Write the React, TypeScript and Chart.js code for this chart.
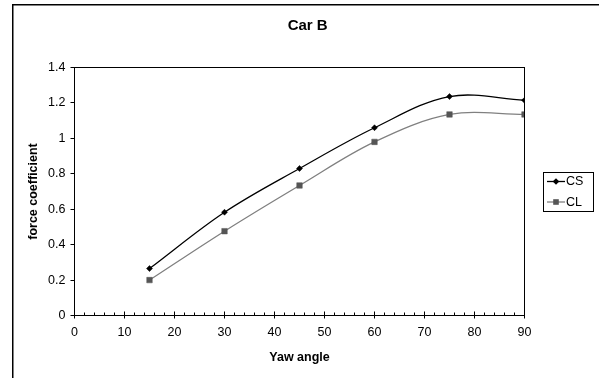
import React, { useEffect, useRef } from "react";
import { Chart, registerables } from "chart.js";

Chart.register(...registerables);

const chartTitle = "Car B";
const xAxisTitle = "Yaw angle";
const yAxisTitle = "force coefficient";
const yawAngles = [15, 30, 45, 60, 75, 90];
const csValues = [0.265, 0.583, 0.83, 1.06, 1.236, 1.215];
const clValues = [0.2, 0.476, 0.734, 0.98, 1.135, 1.135];
const seriesNames = ["CS", "CL"];
const xMajorTicks = [0, 10, 20, 30, 40, 50, 60, 70, 80, 90];
const xMinorTicks = [
  0, 2, 4, 6, 8, 10, 12, 14, 16, 18, 20, 22, 24, 26, 28, 30, 32, 34, 36, 38, 40,
  42, 44, 46, 48, 50, 52, 54, 56, 58, 60, 62, 64, 66, 68, 70, 72, 74, 76, 78, 80,
  82, 84, 86, 88, 90,
];
const yTicks = [0, 0.2, 0.4, 0.6, 0.8, 1, 1.2, 1.4];

const FONT = "Arial, 'Liberation Sans', sans-serif";
const TICK_SIZE = 12.5;

function align(v: number) {
  return Math.round(v - 0.5) + 0.5;
}

const decorPlugin = {
  id: "decor",
  beforeDraw(chart: any) {
    const ctx = chart.ctx;
    ctx.save();
    ctx.fillStyle = "#fff";
    ctx.fillRect(0, 0, chart.width, chart.height);
    ctx.restore();
  },
  afterDraw(chart: any) {
    const ctx = chart.ctx;
    const { left, top, right, bottom } = chart.chartArea;
    ctx.save();
    // outer frame
    ctx.strokeStyle = "#000";
    ctx.lineWidth = 1.5;
    ctx.beginPath();
    ctx.moveTo(12.75, chart.height + 5);
    ctx.lineTo(12.75, 4.75);
    ctx.lineTo(chart.width + 5, 4.75);
    ctx.stroke();

    // plot border
    ctx.lineWidth = 1;
    ctx.strokeRect(align(left), align(top), align(right) - align(left), align(bottom) - align(top));

    // x minor + inner major ticks
    const xs = chart.scales.x;
    const yb = align(bottom);
    ctx.beginPath();
    xMinorTicks.forEach((v) => {
      const px = align(xs.getPixelForValue(v));
      const major = xMajorTicks.includes(v);
      ctx.moveTo(px, yb - (major ? 4 : 3));
      ctx.lineTo(px, yb);
    });
    ctx.stroke();

    // legend
    const bx = 543.5, by = 172.5, bw = 50, bh = 39;
    ctx.strokeRect(bx, by, bw, bh);
    const rows = [181.5, 202];
    chart.data.datasets.forEach((ds: any, i: number) => {
      const cy = rows[i];
      ctx.strokeStyle = ds.borderColor;
      ctx.lineWidth = ds.borderWidth;
      ctx.beginPath();
      ctx.moveTo(547, cy);
      ctx.lineTo(565, cy);
      ctx.stroke();
      ctx.fillStyle = ds.pointBackgroundColor;
      const cx = 556;
      ctx.beginPath();
      if (ds.pointStyle === "rectRot") {
        const r = 3.3;
        ctx.moveTo(cx, cy - r);
        ctx.lineTo(cx + r, cy);
        ctx.lineTo(cx, cy + r);
        ctx.lineTo(cx - r, cy);
        ctx.closePath();
      } else {
        ctx.rect(cx - 2.8, cy - 2.8, 5.6, 5.6);
      }
      ctx.fill();
      ctx.fillStyle = "#000";
      ctx.font = `${TICK_SIZE}px ${FONT}`;
      ctx.textBaseline = "middle";
      ctx.textAlign = "left";
      ctx.fillText(ds.label, 566, cy + 0.5);
    });
    ctx.restore();
  },
};

export default function App() {
  const ref = useRef<HTMLCanvasElement>(null);
  useEffect(() => {
    document.body.style.margin = "0";
    Chart.defaults.font.family = FONT;
    const chart = new Chart(ref.current as HTMLCanvasElement, {
      type: "line",
      data: {
        datasets: [
          {
            label: seriesNames[0],
            data: yawAngles.map((x, i) => ({ x, y: csValues[i] })),
            borderColor: "#000",
            borderWidth: 1.3,
            pointStyle: "rectRot",
            pointRadius: 3,
            pointBorderWidth: 0.5,
            pointBackgroundColor: "#000",
            pointBorderColor: "#000",
            tension: 0.35,
            fill: false,
          },
          {
            label: seriesNames[1],
            data: yawAngles.map((x, i) => ({ x, y: clValues[i] })),
            borderColor: "#808080",
            borderWidth: 1.3,
            pointStyle: "rect",
            pointRadius: 3.9,
            pointBorderWidth: 0.5,
            pointBackgroundColor: "#555",
            pointBorderColor: "#555",
            tension: 0.35,
            fill: false,
          },
        ],
      },
      options: {
        animation: false,
        responsive: false,
        devicePixelRatio: 1,
        layout: { padding: { left: 16.4, right: 0, top: 0, bottom: 0 } },
        plugins: {
          legend: { display: false },
          tooltip: { enabled: false },
          title: {
            display: true,
            text: chartTitle,
            color: "#000",
            font: { size: 15, weight: "bold", family: FONT },
            padding: { top: 16.5, bottom: 33 },
          },
        },
        scales: {
          x: {
            type: "linear",
            position: "bottom",
            min: 0,
            max: 90,
            afterBuildTicks: (s: any) => {
              s.ticks = xMajorTicks.map((value) => ({ value }));
            },
            afterFit: (s: any) => {
              s.height = 62.5;
            },
            ticks: {
              color: "#000",
              font: { size: TICK_SIZE, family: FONT },
              padding: 7,
              maxRotation: 0,
              autoSkip: false,
            },
            grid: {
              drawOnChartArea: false,
              drawTicks: true,
              tickLength: 3,
              color: "#000",
              tickColor: "#000",
            },
            border: { display: true, color: "#000", width: 1 },
            title: {
              display: true,
              text: xAxisTitle,
              color: "#000",
              font: { size: 12.5, weight: "bold", family: FONT },
              padding: { top: 0, bottom: 13 },
            },
          },
          y: {
            type: "linear",
            position: "left",
            min: 0,
            max: 1.4,
            afterBuildTicks: (s: any) => {
              s.ticks = yTicks.map((value) => ({ value }));
            },
            afterFit: (s: any) => {
              s.width = 58.1;
            },
            ticks: {
              color: "#000",
              font: { size: TICK_SIZE, family: FONT },
              padding: 5,
              callback: (v: any) => String(+Number(v).toFixed(1)),
            },
            grid: {
              drawOnChartArea: false,
              drawTicks: true,
              tickLength: 4,
              color: "#000",
              tickColor: "#000",
            },
            border: { display: true, color: "#000", width: 1 },
            title: {
              display: true,
              text: yAxisTitle,
              color: "#000",
              font: { size: 12.5, weight: "bold", family: FONT },
              padding: { top: 9.6, bottom: 0 },
            },
          },
          yRight: {
            type: "linear",
            axis: "y",
            position: "right",
            display: true,
            grid: { display: false, drawTicks: false },
            ticks: { display: false },
            border: { display: false },
            afterFit: (s: any) => {
              s.width = 74.5;
            },
          },
        },
      },
      plugins: [decorPlugin],
    } as any);
    return () => chart.destroy();
  }, []);
  return (
    <div style={{ width: 599, height: 378, position: "relative" }}>
      <canvas ref={ref} width={599} height={378} style={{ display: "block" }} />
    </div>
  );
}
